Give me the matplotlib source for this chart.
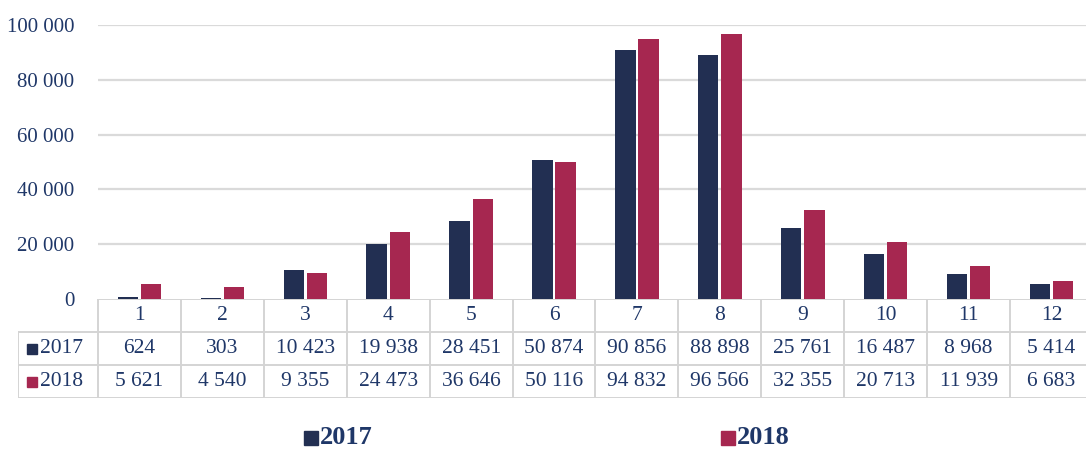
import numpy as np
import matplotlib
matplotlib.use('Agg')
import matplotlib.pyplot as plt
from matplotlib.lines import Line2D

months = ['1', '2', '3', '4', '5', '6', '7', '8', '9', '10', '11', '12']
v2017 = [624, 303, 10423, 19938, 28451, 50874, 90856, 88898, 25761, 16487, 8968, 5414]
v2018 = [5621, 4540, 9355, 24473, 36646, 50116, 94832, 96566, 32355, 20713, 11939, 6683]
series_names = ['2017', '2018']
yticks = [0, 20000, 40000, 60000, 80000, 100000]

c2017 = '#222f52'
c2018 = '#a62750'
txt = '#1f3768'
grid = '#dadada'

plt.rcParams['font.family'] = ['Liberation Serif', 'DejaVu Serif']

W, H = 1086, 450
fig = plt.figure(figsize=(W / 100, H / 100), dpi=100)

def px(x0, y0, x1, y1):
    # pixel box (top-left origin) -> figure fraction rect
    return [x0 / W, 1 - y1 / H, (x1 - x0) / W, (y1 - y0) / H]

col_l, col_r = 98, 1093
ax = fig.add_axes(px(col_l, 25, col_r, 299))
x = np.arange(1, len(months) + 1)
bw = 0.245
ax.bar(x - 0.14, v2017, bw, color=c2017, zorder=3)
ax.bar(x + 0.14, v2018, bw, color=c2018, zorder=3)
ax.set_xlim(0.5, len(months) + 0.5)
ax.set_ylim(0, 100000)
ax.set_yticks(yticks)
ax.set_yticklabels([f'{v:,}'.replace(',', ' ') for v in yticks], color=txt, fontsize=15)
ax.tick_params(axis='y', length=0, pad=17)
ax.set_xticks([])
for s in ax.spines.values():
    s.set_visible(False)
for v in yticks[1:]:
    ax.axhline(v, color=grid, lw=1.6, zorder=1)

# data table under the plot
colw = (col_r - col_l) / len(months)
left_edge = 0.5 - (col_l - 18) / colw
tab = fig.add_axes(px(18, 299, col_r, 398))
tab.set_xlim(left_edge, len(months) + 0.5)
tab.set_ylim(0, 3)
tab.axis('off')
bc = '#d4d4d4'
# horizontal lines
tab.plot([0.5, len(months) + 0.5], [3, 3], color=bc, lw=1.4)
for yy in [2, 1, 0]:
    tab.plot([left_edge, len(months) + 0.5], [yy, yy], color=bc, lw=1.4)
# vertical lines
for xx in np.arange(0.5, len(months) + 1.5):
    tab.plot([xx, xx], [0, 3], color=bc, lw=1.4)
tab.plot([left_edge, left_edge], [0, 2], color=bc, lw=1.4)

fs = 15.5
for i, m in enumerate(months):
    tab.text(x[i], 2.5, m, ha='center', va='center', fontsize=fs, color=txt)
    tab.text(x[i], 1.5, f'{v2017[i]:,}'.replace(',', ' '), ha='center', va='center', fontsize=fs, color=txt)
    tab.text(x[i], 0.5, f'{v2018[i]:,}'.replace(',', ' '), ha='center', va='center', fontsize=fs, color=txt)

lab_x = left_edge + 0.17
for yy, name, col in [(1.5, series_names[0], c2017), (0.5, series_names[1], c2018)]:
    tab.plot([lab_x], [yy], marker='s', ms=7, color=col, clip_on=False)
    tab.text(lab_x + 0.1, yy, name, ha='left', va='center', fontsize=fs, color=txt)

# legend at the bottom
for (sx, ty), name, col in [((311, 438), series_names[0], c2017), ((728, 438), series_names[1], c2018)]:
    fig.add_artist(Line2D([sx / W], [1 - ty / H], marker='s', ms=10, color=col,
                          transform=fig.transFigure))
    fig.text((sx + 9) / W, 1 - ty / H, name, ha='left', va='center',
             fontsize=19, fontweight='bold', color=txt)

fig.savefig('out.png', dpi=100)
